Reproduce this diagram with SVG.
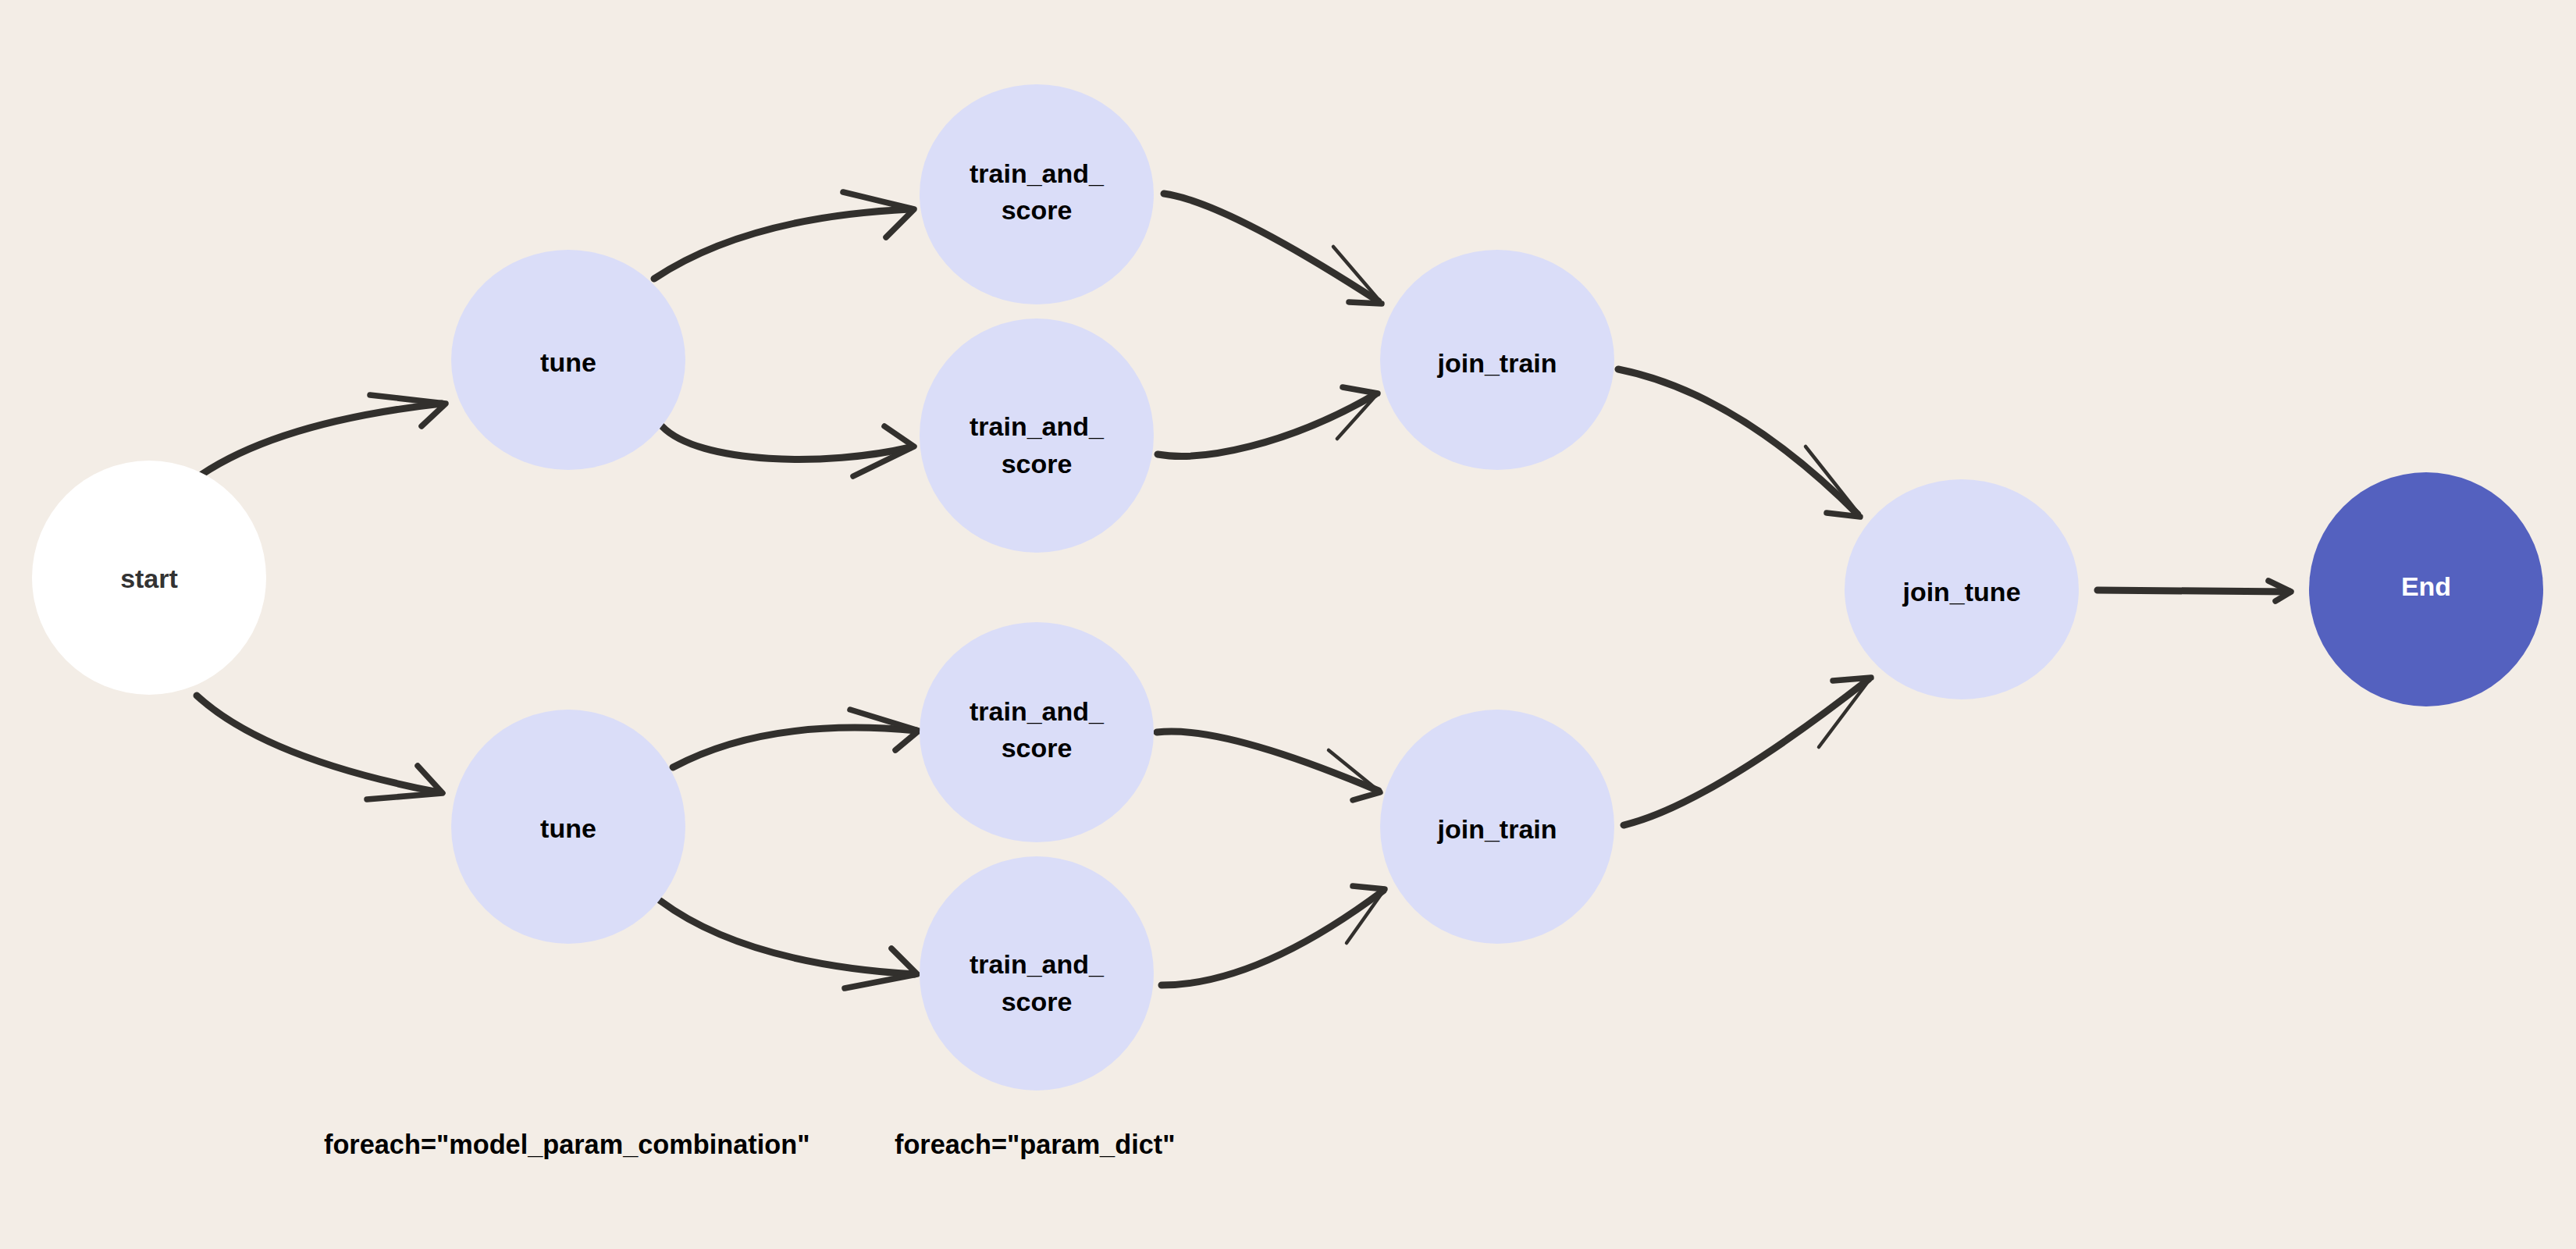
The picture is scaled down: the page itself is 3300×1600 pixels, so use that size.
<svg xmlns="http://www.w3.org/2000/svg" width="3300" height="1600" viewBox="0 0 3300 1600">
<style>
.bg{fill:#F3EDE6}
.node{fill:#DADDF8}
.start{fill:#FFFFFF}
.end{fill:#5461BF}
.lbl{font-family:"Liberation Sans",Arial,sans-serif;font-weight:bold;font-size:34px;fill:#000;text-anchor:middle}
.lbl.s{fill:#333}
.lbl.w{fill:#FFF}
.note{font-family:"Liberation Sans",Arial,sans-serif;font-weight:bold;font-size:34.3px;fill:#000}
.shaft{fill:none;stroke:#32302D;stroke-width:9;stroke-linecap:round;stroke-linejoin:round}
.head{fill:none;stroke:#32302D;stroke-width:7.5;stroke-linecap:round;stroke-linejoin:round}
.thin{fill:none;stroke:#32302D;stroke-width:4.5;stroke-linecap:round;stroke-linejoin:round}
</style>
<rect class="bg" x="0" y="0" width="3300" height="1600"/>

<g id="connectors">
  <!-- start -> tune top -->
  <path class="shaft" d="M258,608 Q360,540 566,517"/>
  <path class="head" d="M474,506 L571,517 L540,546"/>
  <!-- start -> tune bottom -->
  <path class="shaft" d="M252,891 Q340,972 562,1015"/>
  <path class="head" d="M535,981 L567,1016 L470,1024"/>
  <!-- tune top -> t&s 1 -->
  <path class="shaft" d="M838,357 Q957,278 1166,268"/>
  <path class="head" d="M1080,246 L1171,268 L1135,304"/>
  <!-- tune top -> t&s 2 -->
  <path class="shaft" d="M848,546 C895,595 1060,598 1166,573"/>
  <path class="head" d="M1133,546 L1171,572 L1093,610"/>
  <!-- t&s 1 -> join_train top -->
  <path class="shaft" d="M1491,248 Q1570,259 1766,386"/>
  <path class="head" d="M1728,387 L1770,389"/>
  <path class="thin" d="M1708,316 L1768,386"/>
  <!-- t&s 2 -> join_train top -->
  <path class="shaft" d="M1483,582 C1540,592 1650,570 1762,505"/>
  <path class="head" d="M1720,496 L1765,504"/>
  <path class="thin" d="M1765,504 L1713,562"/>
  <!-- join_train top -> join_tune -->
  <path class="shaft" d="M2073,473 Q2224,503 2380,659"/>
  <path class="head" d="M2340,657 L2383,662"/>
  <path class="thin" d="M2313,572 L2381,658"/>
  <!-- join_train bottom -> join_tune -->
  <path class="shaft" d="M2080,1057 Q2188,1031 2394,870"/>
  <path class="head" d="M2348,872 L2397,868"/>
  <path class="thin" d="M2397,868 L2330,957"/>
  <!-- join_tune -> End -->
  <path class="shaft" d="M2687,756 L2933,758"/>
  <path class="head" d="M2906,744 L2935,758 L2915,770"/>
  <!-- tune bottom -> t&s 3 -->
  <path class="shaft" d="M862,983 Q984,918 1174,936"/>
  <path class="head" d="M1089,909 L1177,936 L1147,961"/>
  <!-- tune bottom -> t&s 4 -->
  <path class="shaft" d="M846,1154 Q955,1235 1172,1248"/>
  <path class="head" d="M1142,1215 L1175,1248 L1082,1266"/>
  <!-- t&s 3 -> join_train bottom -->
  <path class="shaft" d="M1482,938 Q1565,928 1766,1013"/>
  <path class="thin" d="M1702,961 L1766,1013"/>
  <path class="head" d="M1733,1025 L1768,1015"/>
  <!-- t&s 4 -> join_train bottom -->
  <path class="shaft" d="M1488,1262 Q1610,1262 1772,1141"/>
  <path class="head" d="M1733,1135 L1774,1139"/>
  <path class="thin" d="M1774,1139 L1725,1208"/>
</g>

<g id="node-start">
  <circle class="start" cx="191" cy="740" r="150"/>
  <text class="lbl s" x="191" y="753">start</text>
</g>
<g id="node-tune-1">
  <ellipse class="node" cx="728" cy="461" rx="150" ry="141"/>
  <text class="lbl" x="728" y="476">tune</text>
</g>
<g id="node-tune-2">
  <circle class="node" cx="728" cy="1059" r="150"/>
  <text class="lbl" x="728" y="1073">tune</text>
</g>
<g id="node-train-and-score-1">
  <ellipse class="node" cx="1328" cy="249" rx="150" ry="141"/>
  <text class="lbl" x="1328" y="234">train_and_</text>
  <text class="lbl" x="1328" y="281">score</text>
</g>
<g id="node-train-and-score-2">
  <circle class="node" cx="1328" cy="558" r="150"/>
  <text class="lbl" x="1328" y="558">train_and_</text>
  <text class="lbl" x="1328" y="606">score</text>
</g>
<g id="node-train-and-score-3">
  <ellipse class="node" cx="1328" cy="938" rx="150" ry="141"/>
  <text class="lbl" x="1328" y="923">train_and_</text>
  <text class="lbl" x="1328" y="970">score</text>
</g>
<g id="node-train-and-score-4">
  <circle class="node" cx="1328" cy="1247" r="150"/>
  <text class="lbl" x="1328" y="1247">train_and_</text>
  <text class="lbl" x="1328" y="1295">score</text>
</g>
<g id="node-join-train-1">
  <ellipse class="node" cx="1918" cy="461" rx="150" ry="141"/>
  <text class="lbl" x="1918" y="477">join_train</text>
</g>
<g id="node-join-train-2">
  <circle class="node" cx="1918" cy="1059" r="150"/>
  <text class="lbl" x="1918" y="1074">join_train</text>
</g>
<g id="node-join-tune">
  <ellipse class="node" cx="2513" cy="755" rx="150" ry="141"/>
  <text class="lbl" x="2513" y="770">join_tune</text>
</g>
<g id="node-end">
  <circle class="end" cx="3108" cy="755" r="150"/>
  <text class="lbl w" x="3108" y="763">End</text>
</g>

<g id="notes">
  <text class="note" x="415" y="1478">foreach="model_param_combination"</text>
  <text class="note" x="1146" y="1478">foreach="param_dict"</text>
</g>
</svg>
